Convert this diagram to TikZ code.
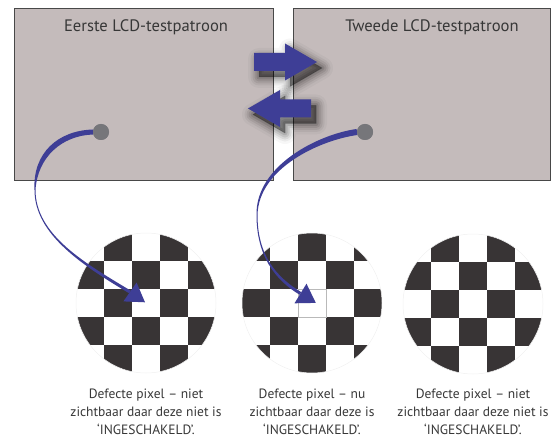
\documentclass[tikz,border=0pt]{standalone}
\usepackage{fontspec}
\setmainfont{PT Sans}
\usetikzlibrary{calc}
\definecolor{panelfill}{RGB}{196,187,187}
\definecolor{paneldraw}{RGB}{72,72,72}
\definecolor{arrowblue}{RGB}{62,62,150}
\definecolor{dotgray}{RGB}{118,118,122}
\definecolor{checkdark}{RGB}{56,52,53}
\definecolor{textgray}{RGB}{55,55,55}
\newcommand\drawchecker[2]{%
  \begin{scope}
    \clip (#1.center) circle (70pt);
    \begin{scope}[shift={(#1.center)}]
      \foreach \r in {0,...,4}{\foreach \c in {0,...,4}{%
        \pgfmathtruncatemacro\cpar{mod(\r+\c,2)}%
        \ifnum\cpar=#2 \fill[checkdark] (\c*28-70,\r*28-70) rectangle ++(28,28);\fi}}
    \end{scope}
  \end{scope}
  \draw[gray!12, line width=0.5pt] (#1.center) circle (70pt);}
\begin{document}
\begin{tikzpicture}[x=1pt,y=-1pt,
  panel/.style={draw=paneldraw, line width=0.9pt, fill=panelfill, inner sep=0pt, rectangle},
  paneltitle/.style={text=textgray, font=\fontsize{16.6}{20}\selectfont, inner sep=0pt, anchor=base},
  pixeldot/.style={circle, fill=dotgray, minimum size=16pt, inner sep=0pt},
  checkdisc/.style={circle, minimum size=140pt, inner sep=0pt},
  captiontext/.style={text=textgray, font=\fontsize{13.5}{18}\selectfont, align=center, inner sep=0pt, anchor=north},
  curvefill/.style={fill=arrowblue},
  pics/blockarrow/.style={code={
    \foreach \w/\o in {22/0.03, 17/0.05, 13/0.07, 9/0.09, 5/0.11, 1/0.14}{
      \path[draw=black, fill=black, opacity=\o, line width=\w pt, line join=round,
            transform canvas={xshift=5pt,yshift=-6pt}]
        (0,-9) -- (31,-9) -- (31,-18.5) -- (63,0) -- (31,18.5) -- (31,9) -- (0,9) -- cycle;}
    \fill[arrowblue] (0,-9) -- (31,-9) -- (31,-18.5) -- (63,0) -- (31,18.5) -- (31,9) -- (0,9) -- cycle;}}
]
\useasboundingbox (0,0) rectangle (556,438);

% panels
\node[panel, minimum width=259pt, minimum height=172pt] (p1) at (143.5,94) {};
\node[panel, minimum width=257pt, minimum height=172pt] (p2) at (421.5,94) {};
\node[paneltitle] (t1) at (146,32) {Eerste LCD-testpatroon};
\node[paneltitle] (t2) at (432,32) {Tweede LCD-testpatroon};

% block arrows
\pic at (254,62) {blockarrow};
\pic[rotate=180] at (311,108.5) {blockarrow};

% checkerboards
\node[checkdisc] (c1) at (146,303) {};
\node[checkdisc] (c2) at (312,303) {};
\node[checkdisc] (c3) at (473,304) {};
\drawchecker{c1}{1}
\drawchecker{c2}{0}
\drawchecker{c3}{1}
\fill[white] ($(c2.center)+(-14,-14)$) rectangle ($(c2.center)+(14,14)$);
\draw[gray!55, line width=0.6pt] ($(c2.center)+(-14,-14)$) rectangle ($(c2.center)+(14,14)$);

% dots
\node[pixeldot] (d1) at (101,132) {};
\node[pixeldot] (d2) at (365,132) {};

% tapered curve 1
\coordinate (h1) at (130,292);
\coordinate (tip1) at (145,302.3);
\fill[curvefill] (93,129.5) .. controls (58,130.5) and (32.5,153) .. (34.5,190)
  .. controls (34.5,235) and (84.2,266.3) .. (129.2,293.3)
  -- (130.8,290.7) .. controls (85.8,263.7) and (35.5,235) .. (35.5,190)
  .. controls (37.5,157) and (62,135.5) .. (93,134.5) -- cycle;
\fill[arrowblue] (tip1) -- (123.4,301.4) -- (136.6,282.6) -- cycle;

% tapered curve 2
\coordinate (h2) at (300.5,293.5);
\coordinate (tip2) at (315.8,302.9);
\fill[curvefill] (356.6,129) .. controls (319.6,134) and (255.5,165) .. (256.5,215)
  .. controls (256.5,255) and (274.2,279.3) .. (299.7,294.8)
  -- (301.3,292.2) .. controls (275.8,276.7) and (257.5,255) .. (257.5,215)
  .. controls (258.5,168) and (320.4,140) .. (357.4,135) -- cycle;
\fill[arrowblue] (tip2) -- (294.5,303.3) -- (306.5,283.7) -- cycle;

% redraw dots on top
\node[pixeldot] at (d1) {};
\node[pixeldot] at (d2) {};

% captions
\node[captiontext] (cap1) at (146,389) {Defecte pixel – niet\\zichtbaar daar deze niet is\\‘INGESCHAKELD’.};
\node[captiontext] (cap2) at (312,389) {Defecte pixel – nu\\zichtbaar daar deze is\\‘INGESCHAKELD’.};
\node[captiontext] (cap3) at (473,389) {Defecte pixel – niet\\zichtbaar daar deze niet is\\‘INGESCHAKELD’.};
\end{tikzpicture}
\end{document}
